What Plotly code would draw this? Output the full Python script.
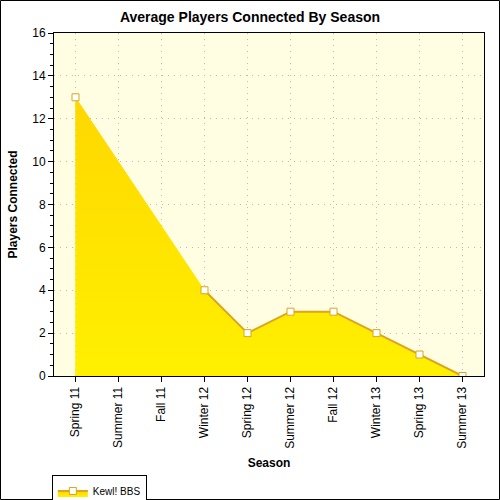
import plotly.graph_objects as go

# season data (Summer 11 and Fall 11 have no reading)
seasons = ["Spring 11", "Summer 11", "Fall 11", "Winter 12", "Spring 12",
           "Summer 12", "Fall 12", "Winter 13", "Spring 13", "Summer 13"]
players = [13, None, None, 4, 2, 3, 3, 2, 1, 0]

gold = "#DAA520"
# gold near the peak, brighter yellow near the floor
grad = dict(type="vertical", start=0, stop=max(p for p in players if p is not None),
            colorscale=[[0, "#FFF000"], [1, "#FFD700"]])
font = "Liberation Sans, Arial, sans-serif"
grid = dict(showgrid=True, gridcolor="#BBBBBB", griddash="1px,5px", gridwidth=1)

fig = go.Figure()

# area fill, bridged over the missing seasons
fig.add_trace(go.Scatter(
    x=seasons, y=players, mode="lines", connectgaps=True,
    fill="tozeroy", fillgradient=grad, line=dict(width=0),
    showlegend=False, hoverinfo="skip",
))

# the line itself breaks at the missing seasons
fig.add_trace(go.Scatter(
    x=seasons, y=players, mode="lines+markers", connectgaps=False,
    fill="tozeroy", fillgradient=grad,
    line=dict(color=gold, width=2),
    marker=dict(symbol="square", size=7, color="white",
                line=dict(color=gold, width=1)),
    name="Kewl! BBS",
))

fig.update_layout(
    width=500, height=500,
    margin=dict(l=54, r=16, t=33, b=124, autoexpand=False),
    paper_bgcolor="white",
    plot_bgcolor="#FFFEE2",
    font=dict(family=font, size=12, color="black"),
    title=dict(text="<b>Average Players Connected By Season</b>",
               x=0.5, xanchor="center", y=0.966, yanchor="middle",
               font=dict(size=14)),
    xaxis=dict(
        type="category", range=[-0.5, 9.5], tickangle=-90, automargin=False,
        ticks="outside", ticklen=5, tickcolor="black",
        showline=True, linecolor="black", linewidth=1, mirror=True,
        title=dict(text="<b>Season</b>", standoff=10, font=dict(size=12)),
        **grid,
    ),
    yaxis=dict(
        range=[0, 16], dtick=2, ticks="outside", ticklen=5, tickcolor="black",
        minor=dict(dtick=0.5, ticks="outside", ticklen=3, tickcolor="black"),
        showline=True, linecolor="black", linewidth=1, mirror=True,
        zeroline=False, automargin=False,
        title=dict(text="<b>Players Connected</b>", standoff=12, font=dict(size=12)),
        **grid,
    ),
    # extra axes for the tick marks along the top and right edges
    xaxis2=dict(overlaying="x", side="top", range=[-0.5, 9.5], automargin=False,
                tickvals=list(range(len(seasons))), showticklabels=False,
                ticks="inside", ticklen=5, tickcolor="black",
                showgrid=False, zeroline=False),
    yaxis2=dict(overlaying="y", side="right", range=[0, 16], dtick=2, automargin=False,
                showticklabels=False, ticks="outside", ticklen=5, tickcolor="black",
                minor=dict(dtick=0.5, ticks="outside", ticklen=3, tickcolor="black"),
                showgrid=False, zeroline=False),
    legend=dict(x=-0.005, y=-0.29, xanchor="left", yanchor="top",
                orientation="h", bordercolor="black", borderwidth=1,
                bgcolor="white", font=dict(size=10), itemwidth=30),
)

# frame around the whole picture
fig.add_shape(type="rect", xref="paper", yref="paper",
              x0=(0.5 - 54) / 430, x1=(499.5 - 54) / 430,
              y0=(376 - 499.5) / 343, y1=(376 - 0.5) / 343,
              line=dict(color="black", width=1), fillcolor="rgba(0,0,0,0)",
              layer="above")

# drop the browser's default body margin so the chart sits at the corner
fig.write_html("out.html", config={"displayModeBar": False},
               post_script="document.body.style.margin='0';")
